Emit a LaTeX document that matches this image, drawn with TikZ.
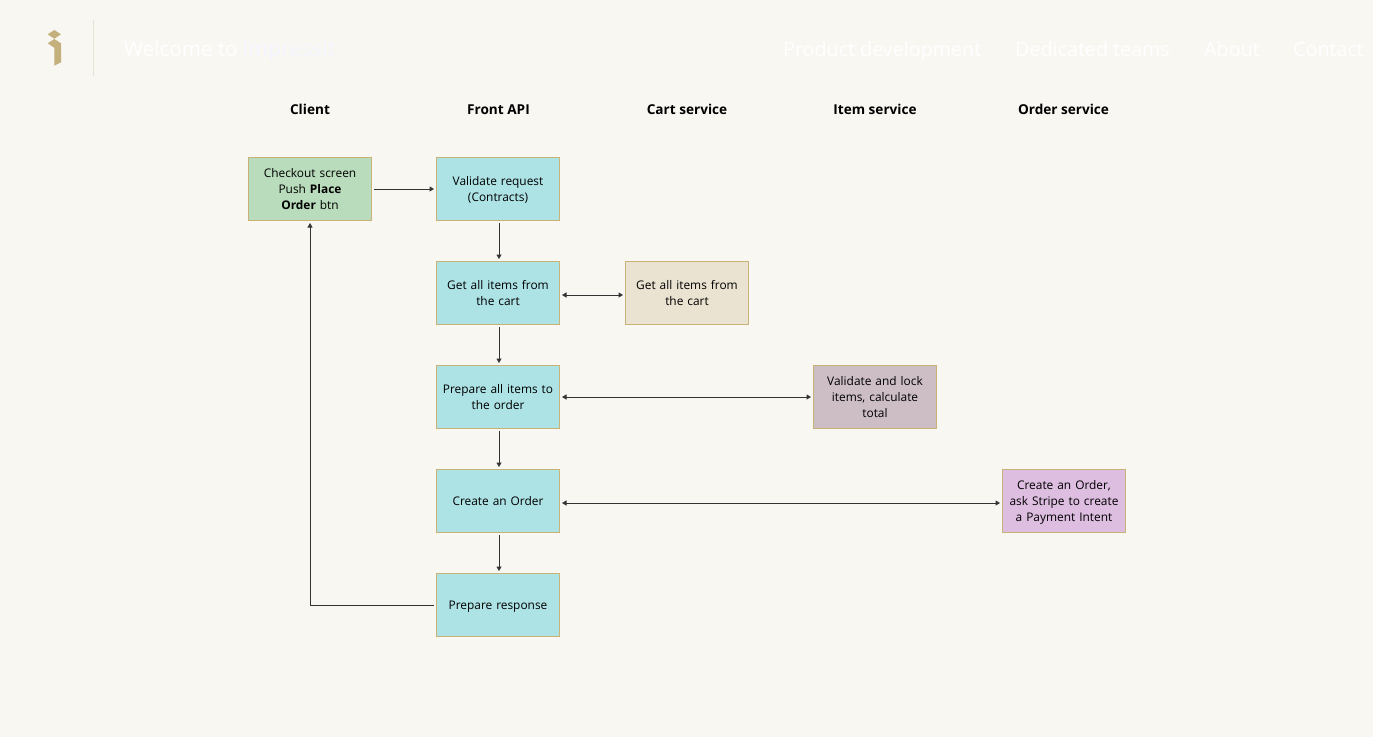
\documentclass[tikz,border=0pt]{standalone}
\usepackage{fontspec}
\setmainfont{Open Sans}
\usetikzlibrary{arrows.meta,calc}
\definecolor{pagebg}{HTML}{F9F7F2}
\definecolor{edgetan}{HTML}{C9B277}
\definecolor{logotan}{HTML}{C4B07C}
\definecolor{navrule}{HTML}{E6E1D3}
\definecolor{fgreen}{HTML}{B9DDBC}
\definecolor{fblue}{HTML}{AEE3E6}
\definecolor{fsand}{HTML}{EAE3D2}
\definecolor{fmauve}{HTML}{CDBEC6}
\definecolor{fpurple}{HTML}{DDBDE0}
\tikzset{
  x=1pt,y=-1pt,
  flowbox/.style={draw=edgetan,line width=1pt,minimum width=123pt,minimum height=63pt,
    inner sep=0pt,outer sep=0pt,align=center,text width=118pt,
    font=\fontsize{11.9}{16}\selectfont,text=black,
    execute at begin node={\rule{0pt}{12.2pt}},execute at end node={\rule[-3.8pt]{0pt}{3.8pt}}},
  headlabel/.style={font=\fontsize{13.6}{16}\selectfont\bfseries,text=black,inner sep=0pt,anchor=base,yshift=-5pt},
  navtext/.style={font=\fontsize{19.7}{24}\selectfont,text=white,inner sep=0pt,anchor=base west},
  conn/.style={draw=black!80,line width=1pt,-{Triangle[length=4.5pt,width=5pt]},shorten >=2.5pt,shorten <=2.5pt},
  biconn/.style={draw=black!80,line width=1pt,{Triangle[length=4.5pt,width=5pt]}-{Triangle[length=4.5pt,width=5pt]},shorten >=2.5pt,shorten <=2.5pt},
}
\begin{document}
\begin{tikzpicture}
\useasboundingbox (0,0) rectangle (1373,737);
\fill[pagebg] (0,0) rectangle (1373,737);
% logo and navigation
\fill[logotan] (47.7,34.3) -- (54.3,30) -- (61,34.3) -- (54.3,38.7) -- cycle;
\fill[logotan] (47.7,43.3) -- (54.3,39) -- (61,43.3) -- (61,62.3) -- (54.3,65.7) -- (54.3,47.7) -- cycle;
\draw[navrule,line width=1pt] (93.5,20) -- (93.5,76);
\node[navtext,font=\fontsize{20.6}{24}\selectfont] (welcome) at (124,56) {Welcome to};
\node[navtext,text=white!96!blue,font=\fontsize{21.5}{24}\selectfont] (impressit) at (242,56) {Impressit};
\node[navtext] (nava) at (783,56) {Product development};
\node[navtext] (navb) at (1015,56) {Dedicated teams};
\node[navtext] (navc) at (1204,56) {About};
\node[navtext] (navd) at (1293,56) {Contact};
% column headers
\node[headlabel] (hclient) at (310,109) {Client};
\node[headlabel] (hfront) at (498.5,109) {Front API};
\node[headlabel] (hcart) at (687,109) {Cart service};
\node[headlabel] (hitem) at (875,109) {Item service};
\node[headlabel] (horder) at (1063.5,109) {Order service};
% boxes
\node[flowbox,fill=fgreen] (checkout) at (310,189) {Checkout screen\\Push \textbf{Place}\\\textbf{Order} btn};
\node[flowbox,fill=fblue] (validate) at (498,189) {Validate request\\(Contracts)};
\node[flowbox,fill=fblue] (getitems) at (498,293) {Get all items from\\the cart};
\node[flowbox,fill=fblue] (prepare) at (498,397) {Prepare all items to\\the order};
\node[flowbox,fill=fblue] (create) at (498,501) {Create an Order};
\node[flowbox,fill=fblue] (response) at (498,605) {Prepare response};
\node[flowbox,fill=fsand] (cart) at (687,293) {Get all items from\\the cart};
\node[flowbox,fill=fmauve] (lock) at (875,397) {Validate and lock\\items, calculate\\total};
\node[flowbox,fill=fpurple] (order) at (1064,501) {Create an Order,\\ask Stripe to create\\a Payment Intent};
% connectors
\draw[conn] (checkout.east) -- (validate.west);
\draw[conn] ([xshift=1pt]validate.south) -- ([xshift=1pt]getitems.north);
\draw[conn] ([xshift=1pt]getitems.south) -- ([xshift=1pt]prepare.north);
\draw[conn] ([xshift=1pt]prepare.south) -- ([xshift=1pt]create.north);
\draw[conn] ([xshift=1pt]create.south) -- ([xshift=1pt]response.north);
\draw[biconn] ([yshift=-2pt]getitems.east) -- ([yshift=-2pt]cart.west);
\draw[biconn] (prepare.east) -- (lock.west);
\draw[biconn] ([yshift=-2pt]create.east) -- ([yshift=-2pt]order.west);
\draw[conn] (response.west) -| (checkout.south);
\end{tikzpicture}
\end{document}
